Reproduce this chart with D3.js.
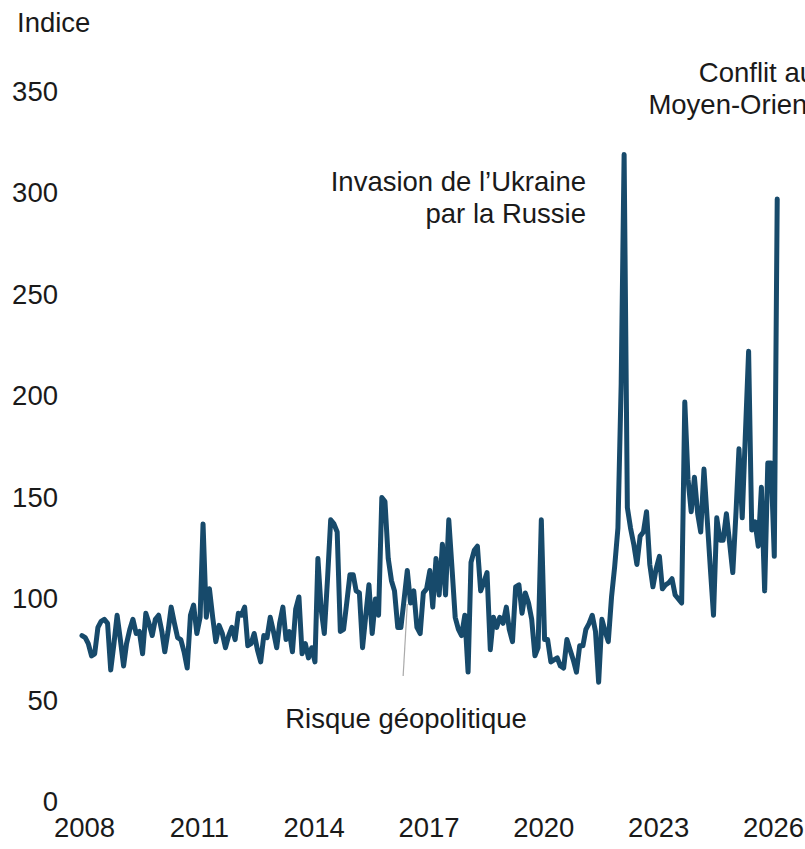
<!DOCTYPE html>
<html>
<head>
<meta charset="utf-8">
<script src="https://cdn.jsdelivr.net/npm/d3@7"></script>
<style>
  body { margin: 0; background: #fff; }
  text { font-family: "Liberation Sans", Arial, sans-serif; fill: #1a1a1a; }
</style>
</head>
<body>
<div id="chart"></div>
<script>
// monthly index, Jan 2008 -> Mar 2026
var values = [
  82, 81, 78, 72, 73, 86, 89, 90, 88, 65, 78, 92,        // 2008
  80, 67, 78, 85, 90, 83, 84, 73, 93, 88, 82, 90,        // 2009
  92, 84, 74, 84, 96, 88, 81, 80, 74, 66, 92, 97,        // 2010
  83, 91, 137, 91, 105, 91, 79, 87, 83, 76, 82, 86,      // 2011
  80, 93, 92, 96, 77, 78, 83, 75, 69, 82, 81, 91,        // 2012
  84, 76, 88, 96, 80, 84, 74, 95, 101, 73, 78, 71,       // 2013
  76, 69, 120, 95, 83, 110, 139, 137, 133, 84, 85, 98,   // 2014
  112, 112, 104, 103, 76, 92, 107, 83, 100, 92, 150, 148,// 2015
  120, 109, 104, 86, 86, 100, 114, 98, 104, 86, 83, 103, // 2016
  105, 114, 96, 120, 102, 127, 102, 139, 115, 91, 85, 82,// 2017
  92, 64, 118, 124, 126, 104, 108, 113, 75, 91, 86, 91,  // 2018
  88, 96, 85, 79, 106, 107, 93, 103, 98, 90, 72, 76,     // 2019
  139, 80, 80, 69, 70, 71, 67, 66, 80, 75, 70, 64,       // 2020
  77, 77, 85, 88, 92, 84, 59, 90, 84, 79, 101, 116,      // 2021
  135, 206, 319, 145, 135, 127, 117, 131, 133, 143, 117, 106, // 2022
  115, 121, 105, 107, 108, 110, 102, 100, 98, 197, 159, 143,  // 2023
  160, 142, 133, 164, 140, 115, 92, 140, 129, 129, 142, 128,  // 2024
  113, 143, 174, 140, 181, 222, 134, 138, 126, 155, 104, 167, // 2025
  167, 121, 297                                               // 2026
];
var startYear = 2008;
var xTicks = [2008, 2011, 2014, 2017, 2020, 2023, 2026];
var yTicks = [0, 50, 100, 150, 200, 250, 300, 350];
var yTitle = "Indice";
var ukraineLabel = ["Invasion de l\u2019Ukraine", "par la Russie"];
var orientLabel = ["Conflit au", "Moyen-Orient"];
var riskLabel = "Risque g\u00e9opolitique";

var data = values.map(function(v, i) {
  return { date: new Date(startYear, i, 1), value: v };
});

const width = 805;
const height = 849;
const fontSize = "27.5px";

var svg = d3.select("#chart").append("svg")
    .attr("width", width)
    .attr("height", height);

// scales
var x = d3.scaleTime()
  .domain([new Date(2008, 0, 1), new Date(2026, 0, 1)])
  .range([82, 82 + 18 * 38.28]);

var y = d3.scaleLinear()
  .domain([0, 350])
  .range([802, 91.5]);

// y axis: labels only, no line
var yAxis = svg.append("g")
  .attr("transform", "translate(58,0)")
  .call(d3.axisLeft(y).tickValues(yTicks).tickSize(0).tickPadding(0));
yAxis.select(".domain").remove();
yAxis.selectAll("text")
  .style("font-family", "'Liberation Sans', Arial, sans-serif")
  .style("font-size", fontSize)
  .style("fill", "#1a1a1a");

// x axis: labels only
var xAxis = svg.append("g")
  .attr("transform", "translate(2,817)")
  .call(d3.axisBottom(x)
    .tickValues(xTicks.map(function(t) { return new Date(t, 0, 1); }))
    .tickFormat(d3.timeFormat("%Y"))
    .tickSize(0).tickPadding(0));
xAxis.select(".domain").remove();
xAxis.selectAll("text")
  .style("font-family", "'Liberation Sans', Arial, sans-serif")
  .style("font-size", fontSize)
  .style("fill", "#1a1a1a");

// title of y axis
svg.append("text")
  .attr("x", 17).attr("y", 32)
  .style("font-size", fontSize)
  .text(yTitle);

// leader line for "Risque géopolitique"
svg.append("line")
  .attr("x1", x(new Date(2016, 5, 1)) - 1).attr("y1", 676)
  .attr("x2", x(new Date(2016, 6, 1))).attr("y2", 604)
  .style("stroke", "#aaaaaa")
  .style("stroke-width", 1.2);

// the line
var line = d3.line()
  .x(function(d) { return x(d.date); })
  .y(function(d) { return y(d.value); });

svg.append("path")
  .datum(data)
  .attr("d", line)
  .style("fill", "none")
  .style("stroke", "#174a6b")
  .style("stroke-width", 5)
  .style("stroke-linejoin", "round")
  .style("stroke-linecap", "round");

// annotations
svg.selectAll(".ukr")
  .data(ukraineLabel).enter()
  .append("text")
  .attr("x", 586)
  .attr("y", function(d, i) { return 191 + i * 32; })
  .attr("text-anchor", "end")
  .style("font-size", fontSize)
  .text(function(d) { return d; });

// this one runs off the right edge, as in the source picture
svg.selectAll(".orient")
  .data(orientLabel).enter()
  .append("text")
  .attr("x", 815)
  .attr("y", function(d, i) { return 82 + i * 32; })
  .attr("text-anchor", "end")
  .style("font-size", fontSize)
  .text(function(d) { return d; });

svg.append("text")
  .attr("x", 406).attr("y", 728)
  .attr("text-anchor", "middle")
  .style("font-size", fontSize)
  .text(riskLabel);
</script>
</body>
</html>
